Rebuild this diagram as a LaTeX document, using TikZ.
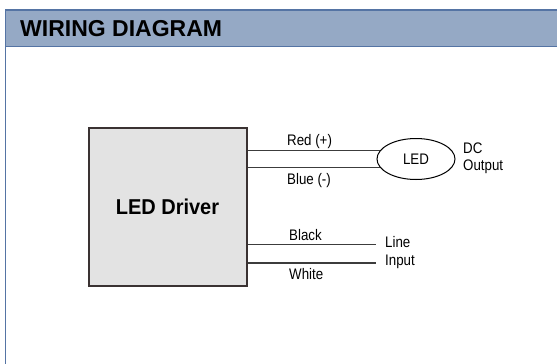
\documentclass[tikz,border=0pt]{standalone}
\usepackage{fontspec}
\setmainfont{Liberation Sans}
\newfontfamily\narrowsans[FakeStretch=0.87]{Liberation Sans}
\newfontfamily\midsans[FakeStretch=0.93]{Liberation Sans}
\usepackage{xcolor}
\usetikzlibrary{shapes.geometric}
\definecolor{headblue}{HTML}{95A9C5}
\definecolor{frameblue}{HTML}{5574A4}
\definecolor{boxgray}{HTML}{E3E3E3}
\definecolor{boxline}{HTML}{3A3232}
\definecolor{wiregray}{HTML}{3C3C3C}

\begin{document}
\begin{tikzpicture}[
    x=1pt, y=-1pt,
    frame/.style={draw=frameblue, line width=1.6pt},
    driverbox/.style={rectangle, draw=boxline, fill=boxgray, line width=2pt, minimum width=158pt, minimum height=158pt, font=\midsans\fontsize{21.5}{23}\selectfont\bfseries},
    lamp/.style={ellipse, draw=black, line width=1pt, minimum width=78pt, minimum height=41pt, inner sep=0pt, font=\narrowsans\fontsize{15.3}{17}\selectfont},
    wire/.style={draw=wiregray, line width=1.3pt},
    lbl/.style={inner sep=0pt, anchor=west, font=\narrowsans\fontsize{15.3}{17}\selectfont}
]
\useasboundingbox (0,0) rectangle (557,364);

% Header band
\fill[headblue] (5.5,10) rectangle (562,46.5);
\draw[frame] (562,10) -- (5.5,10) -- (5.5,370);
\draw[frame] (5.5,46.5) -- (562,46.5);
\node[inner sep=0pt, anchor=west, font=\fontsize{23}{25}\selectfont\bfseries] (title) at (20,29) {WIRING DIAGRAM};

% Driver and lamp
\node[driverbox] (driver) at (167.5,206.5) {LED Driver};
\node[lamp] (led) at (416,159) {LED};

% Wire ends
\coordinate (redEnd) at (led.167);
\coordinate (blueEnd) at (led.193);
\coordinate (blackEnd) at (376,244.5);
\coordinate (whiteEnd) at (376,263);

% Wires
\draw[wire] (driver.east |- redEnd) -- (redEnd);
\draw[wire] (driver.east |- blueEnd) -- (blueEnd);
\draw[wire] (driver.east |- blackEnd) -- (blackEnd);
\draw[wire] (driver.east |- whiteEnd) -- (whiteEnd);

% Labels
\node[lbl] (red) at (287,141.5) {Red (+)};
\node[lbl] (blue) at (287,181) {Blue (-)};
\node[lbl] (dc) at (463,148) {DC};
\node[lbl] (output) at (463,167) {Output};
\node[lbl] (black) at (289,235.5) {Black};
\node[lbl] (white) at (289,274) {White};
\node[lbl] (line) at (385,242.5) {Line};
\node[lbl] (input) at (385,262) {Input};

\end{tikzpicture}
\end{document}
